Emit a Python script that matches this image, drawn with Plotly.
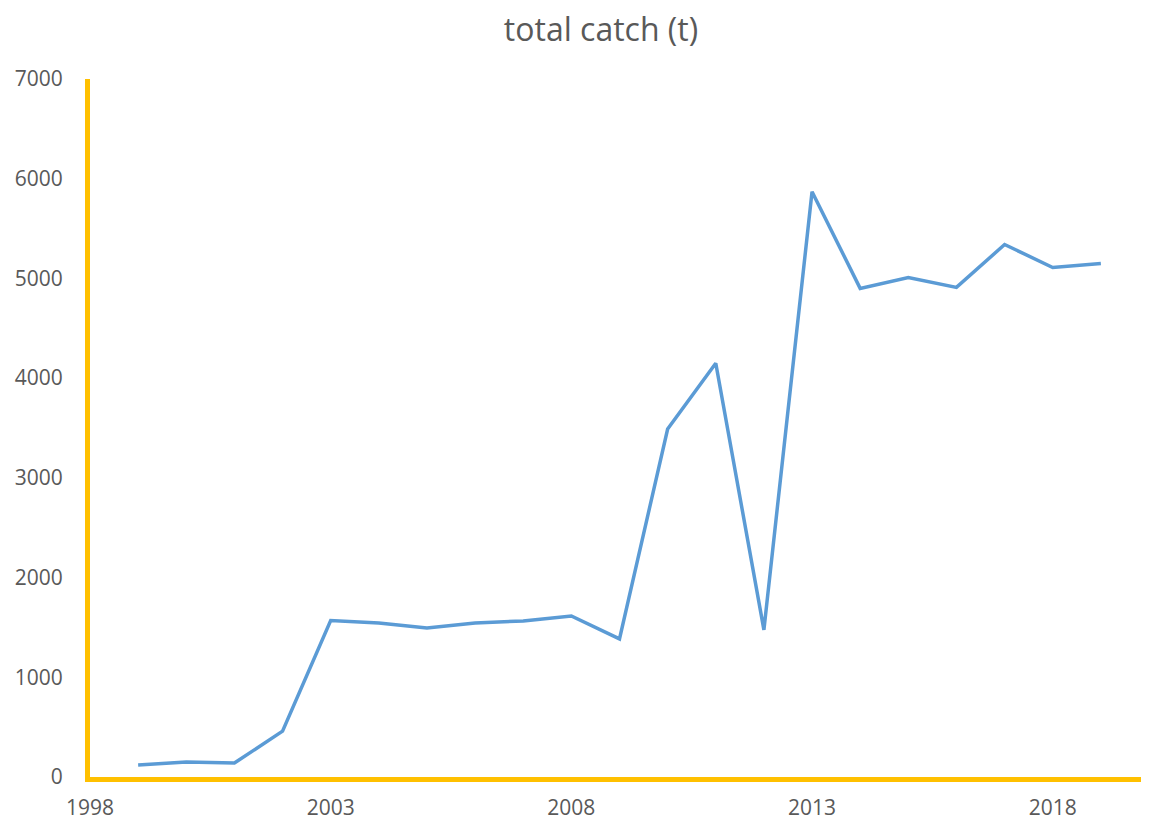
import plotly.graph_objects as go

years = list(range(1999, 2020))
catch = [120, 150, 140, 460, 1570, 1545, 1495, 1545, 1565, 1615, 1385,
         3490, 4150, 1475, 5870, 4900, 5010, 4910, 5340, 5110, 5150]

W, H = 1141, 816

fig = go.Figure()
fig.add_trace(go.Scatter(x=years, y=catch, mode="lines",
                         line=dict(color="#5B9BD5", width=3.5),
                         showlegend=False))

fig.update_layout(
    width=W, height=H,
    margin=dict(l=82, r=0, t=71, b=47, autoexpand=False),
    paper_bgcolor="white", plot_bgcolor="white",
    title=dict(text="total catch (t)", x=593 / W, xanchor="center",
               y=1 - 22 / H, yanchor="middle",
               font=dict(family="Open Sans", size=32, color="#595959")),
    font=dict(family="Open Sans", size=21, color="#595959"),
)
fig.update_xaxes(range=[1998, 2020], tick0=1998, dtick=5, showgrid=False, zeroline=False,
                 showline=True, linecolor="#FFC000", linewidth=5, ticks="",
                 automargin=False, ticklabelstandoff=8,
                 tickfont=dict(size=21, color="#595959"))
fig.update_yaxes(range=[0, 7000], dtick=1000, showgrid=False, zeroline=False,
                 showline=True, linecolor="#FFC000", linewidth=5, ticks="",
                 automargin=False, ticklabelstandoff=18,
                 tickfont=dict(size=21, color="#595959"))

fig.write_html("out.html")
